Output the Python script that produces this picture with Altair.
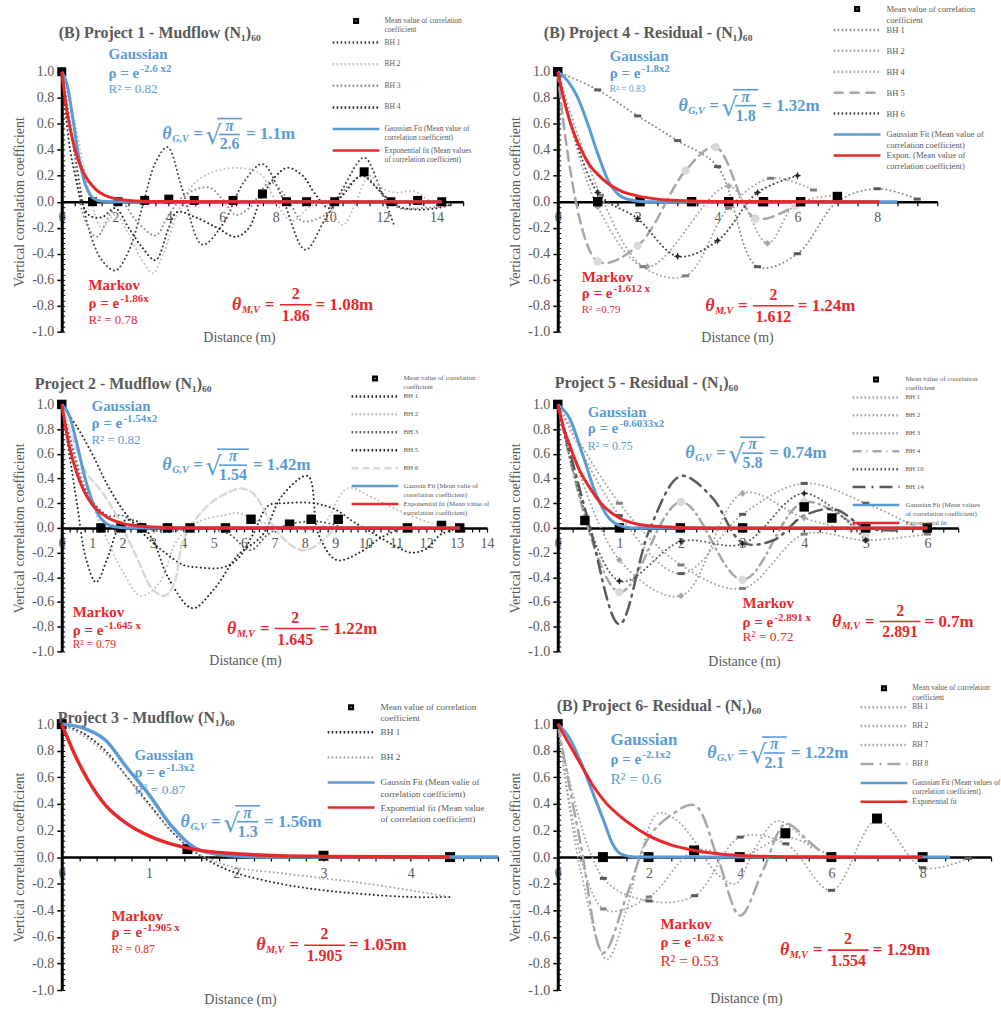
import altair as alt
import pandas as pd

# ===================== DATA =====================
# ---- Project 1 ----
P1_MEAN_X = [0, 1.15, 2.1, 3.1, 4.0, 4.95, 6.4, 7.5, 8.4, 9.15, 10.2, 11.3, 12.3, 13.3, 14.2]
P1_MEAN_Y = [1.0, 0.0, 0.0, 0.01, 0.02, 0.01, 0.01, 0.06, 0.0, 0.0, 0.0, 0.23, 0.0, 0.01, 0.0]
P1_BH1_X = [0, 0.5, 1, 1.5, 2, 2.5, 3, 3.5, 3.95, 4.5, 5.25, 6, 6.8, 7.5, 8.2, 9.1, 9.8, 10.5, 11.3, 11.9, 12.4]
P1_BH1_Y = [1.0, 0.35, -0.2, -0.45, -0.53, -0.38, -0.05, 0.3, 0.42, 0.1, -0.33, -0.18, 0.15, 0.29, 0.05, -0.37, -0.15, 0.1, 0.34, 0.1, -0.17]
P1_BH2_X = [0, 0.5, 1, 1.5, 2, 2.5, 3, 3.4, 3.8, 4.3, 5, 6, 7, 7.5, 8, 8.6, 9.2, 9.8, 10.5, 11, 11.5, 12, 12.5, 13.2, 13.8, 14.3]
P1_BH2_Y = [1.0, 0.6, 0.1, -0.2, -0.1, -0.25, -0.45, -0.55, -0.4, -0.1, 0.15, 0.25, 0.25, 0.2, 0.0, -0.15, -0.05, 0.0, -0.18, 0.0, 0.2, 0.1, 0.07, 0.08, 0.0, -0.03]
P1_BH3_X = [0, 0.4, 0.8, 1.3, 1.8, 2.2, 2.8, 3.5, 4, 4.6, 5.5, 6, 6.5, 7, 7.8, 8.5, 9, 10, 10.6, 11.3, 12, 12.6, 13.3, 14, 14.7]
P1_BH3_Y = [1.0, 0.5, -0.1, -0.27, -0.1, 0.0, -0.15, -0.26, -0.1, 0.05, 0.11, 0.02, -0.1, -0.05, 0.15, 0.0, -0.15, -0.08, 0.1, 0.2, 0.05, -0.05, -0.05, -0.04, -0.02]
P1_BH4_X = [0, 0.4, 1, 1.5, 2, 2.5, 3, 3.5, 4, 4.3, 5, 5.8, 6.5, 7, 7.5, 8.4, 9, 9.5, 10, 10.5, 11.2, 11.8, 12.5, 13.2, 14, 14.6]
P1_BH4_Y = [1.0, 0.3, -0.1, -0.12, -0.05, -0.2, -0.35, -0.45, -0.2, -0.08, -0.12, -0.2, -0.27, -0.2, 0.05, 0.26, 0.2, 0.05, -0.05, 0.05, 0.2, 0.1, -0.03, -0.06, -0.05, -0.02]
P1_GAUSS_X = [0, 0.2, 0.4, 0.6, 0.8, 1.0, 1.2, 1.5, 2.0, 14.2]
P1_GAUSS_Y = [1.0, 0.9, 0.66, 0.39, 0.19, 0.074, 0.024, 0.003, 0.0, 0.0]
P1_EXP_X = [0, 0.2, 0.4, 0.6, 0.8, 1.0, 1.3, 1.6, 2.0, 2.5, 3.0, 4.0, 14.2]
P1_EXP_Y = [1.0, 0.69, 0.48, 0.33, 0.23, 0.16, 0.09, 0.05, 0.024, 0.01, 0.004, 0.001, 0.0]

# ---- Project 4 ----
P4_MEAN_X = [0, 1.0, 2.06, 3.35, 4.28, 5.15, 6.08, 7.0]
P4_MEAN_Y = [1.0, 0.0, 0.0, 0.0, 0.0, 0.0, 0.0, 0.04]
P4_BH1_X = [0, 1, 2, 3, 4, 5, 6, 7, 8, 9]
P4_BH1_Y = [1.0, 0.86, 0.66, 0.47, 0.27, -0.5, -0.4, 0.0, 0.1, 0.02]
P4_BH2_X = [0, 1.0, 2.24, 4.28, 5.25, 5.95, 6.98]
P4_BH2_Y = [1.0, -0.04, -0.5, 0.12, -0.32, -0.02, 0.05]
P4_BH4_X = [0, 1.07, 2.13, 3.2, 4.27, 5.33, 6.4]
P4_BH4_Y = [1.0, 0.05, -0.5, -0.57, -0.05, 0.18, 0.09]
P4_BH5_X = [0, 1.0, 2.0, 3.2, 3.95, 4.95, 5.94]
P4_BH5_Y = [1.0, -0.46, -0.34, 0.24, 0.42, -0.13, -0.03]
P4_BH6_X = [0, 1, 2, 3, 4, 5, 6]
P4_BH6_Y = [1.0, 0.07, -0.13, -0.42, -0.3, 0.07, 0.2]
P4_GAUSS_X = [0, 0.25, 0.5, 0.75, 1.0, 1.25, 1.5, 1.8, 2.2, 3.0, 8.5]
P4_GAUSS_Y = [1.0, 0.93, 0.8, 0.6, 0.37, 0.17, 0.06, 0.015, 0.0, 0.0, 0.0]
P4_EXP_X = [0, 0.2, 0.4, 0.6, 0.8, 1.0, 1.3, 1.6, 2.0, 2.5, 3.0, 4.0, 8.05]
P4_EXP_Y = [1.0, 0.73, 0.53, 0.39, 0.28, 0.21, 0.13, 0.08, 0.045, 0.02, 0.009, 0.002, 0.0]

# ---- Project 2 ----
P2_MEAN_X = [0, 1.29, 1.95, 2.63, 3.48, 4.22, 5.39, 6.23, 7.5, 8.21, 9.1, 11.38, 12.5, 13.1]
P2_MEAN_Y = [1.0, 0.0, 0.0, 0.0, 0.0, 0.0, 0.0, 0.07, 0.03, 0.07, 0.07, 0.0, 0.02, 0.0]
P2_BH1_X = [0, 0.5, 0.8, 1.13, 1.5, 2.0, 2.5, 3.0, 3.5, 4.3, 5.0, 5.8, 6.6, 7.25, 8.1, 8.45, 9.05, 9.8, 10.5, 11.2]
P2_BH1_Y = [1.0, 0.2, -0.25, -0.44, -0.25, 0.05, 0.05, -0.1, -0.4, -0.65, -0.5, -0.22, -0.06, 0.26, 0.42, -0.05, -0.26, -0.2, -0.08, 0.0]
P2_BH2_X = [0, 0.5, 1, 1.5, 2.0, 2.6, 3.2, 3.8, 4.5, 5.3, 5.8, 6.5, 7.5, 8.5, 9.4, 10.2, 11, 12, 12.8]
P2_BH2_Y = [1.0, 0.55, 0.2, -0.1, -0.35, -0.55, -0.45, -0.1, 0.05, 0.1, 0.12, 0.05, 0.0, 0.0, 0.32, 0.25, 0.15, 0.05, 0.0]
P2_BH3_X = [0, 0.4, 0.8, 1.5, 2.0, 2.5, 3.0, 3.5, 4.5, 5.5, 6.2, 6.8, 7.5, 8.5, 9.3]
P2_BH3_Y = [1.0, 0.6, 0.3, 0.1, 0.1, 0.02, -0.02, -0.03, 0.0, -0.05, -0.18, -0.05, 0.03, 0.05, 0.0]
P2_BH5_X = [0, 0.5, 1, 1.5, 2, 2.5, 3, 3.5, 4, 4.5, 5.3, 5.8, 6.3, 6.8, 7.3, 8.3, 9.0, 9.6, 10.3, 11.0, 11.5, 12.0, 12.5, 13.2]
P2_BH5_Y = [1.0, 0.82, 0.6, 0.35, 0.15, 0.0, -0.12, -0.22, -0.3, -0.32, -0.32, -0.25, -0.05, 0.18, 0.2, 0.2, 0.15, 0.05, -0.05, -0.15, -0.2, -0.17, -0.05, 0.0]
P2_BH6_X = [0, 0.4, 0.8, 1.3, 1.8, 2.4, 3.0, 3.4, 3.7, 4.0, 4.5, 5.0, 5.6, 5.9, 6.3, 7.0, 7.6, 8.0, 8.5, 9.0]
P2_BH6_Y = [1.0, 0.7, 0.45, 0.3, 0.1, -0.2, -0.5, -0.55, -0.45, -0.1, 0.1, 0.22, 0.3, 0.32, 0.28, 0.0, -0.15, -0.18, -0.12, 0.0]
P2_GAUSS_X = [0, 0.25, 0.5, 0.75, 1.0, 1.25, 1.5, 1.75, 2.0, 2.5, 13.1]
P2_GAUSS_Y = [1.0, 0.91, 0.68, 0.42, 0.22, 0.09, 0.03, 0.009, 0.002, 0.0, 0.0]
P2_EXP_X = [0, 0.25, 0.5, 0.75, 1.0, 1.5, 2.0, 2.5, 3.0, 4.0, 13.1]
P2_EXP_Y = [1.0, 0.66, 0.44, 0.29, 0.19, 0.085, 0.037, 0.016, 0.007, 0.0014, 0.0]

# ---- Project 5 ----
P5_MEAN_X = [0, 0.44, 1.0, 1.99, 3.0, 4.0, 4.45, 5.0, 6.0]
P5_MEAN_Y = [1.0, 0.06, 0.0, 0.0, 0.0, 0.17, 0.08, 0.0, 0.0]
P5_BH1_X = [0, 1, 2, 3, 4, 5, 6]
P5_BH1_Y = [1.0, 0.1, -0.37, 0.11, 0.36, 0.2, -0.04]
P5_BH2_X = [0, 1, 2, 3, 4, 5]
P5_BH2_Y = [1.0, -0.26, -0.55, 0.28, 0.08, -0.05]
P5_BH3_X = [0, 1, 2, 3, 4, 5, 6]
P5_BH3_Y = [1.0, 0.2, -0.3, -0.49, -0.05, -0.1, -0.05]
P5_BH4_X = [0, 1, 2, 3, 4, 5]
P5_BH4_Y = [1.0, -0.52, 0.21, -0.42, 0.21, -0.05]
P5_BH10_X = [0, 1, 2, 3, 4, 5]
P5_BH10_Y = [1.0, -0.43, -0.11, -0.13, 0.28, -0.1]
P5_BH14_X = [0, 0.5, 1, 1.5, 2, 2.5, 3, 3.5, 4, 4.5, 5, 5.5]
P5_BH14_Y = [1.0, 0.05, -0.78, 0.0, 0.42, 0.25, -0.12, -0.1, 0.1, 0.15, 0.0, -0.02]
P5_GAUSS_X = [0, 0.2, 0.4, 0.6, 0.8, 1.0, 1.2, 6.0]
P5_GAUSS_Y = [1.0, 0.88, 0.6, 0.3, 0.1, 0.02, 0.0, 0.0]
P5_EXP_X = [0, 0.1, 0.2, 0.35, 0.5, 0.7, 1.0, 1.3, 1.7, 2.5, 6.0]
P5_EXP_Y = [1.0, 0.8, 0.66, 0.47, 0.34, 0.2, 0.08, 0.03, 0.01, 0.0, 0.0]

# ---- Project 3 ----
P3_MEAN_X = [0, 1.44, 3.0, 4.45]
P3_MEAN_Y = [1.0, 0.06, 0.01, 0.0]
P3_BH1_X = [0, 0.25, 0.5, 0.75, 1.0, 1.25, 1.5, 1.75, 2.0, 2.5, 3.0, 3.5, 4.0, 4.45]
P3_BH1_Y = [1.0, 0.93, 0.8, 0.6, 0.4, 0.2, 0.05, -0.05, -0.12, -0.2, -0.25, -0.28, -0.3, -0.3]
P3_BH2_X = [0, 0.25, 0.5, 0.75, 1.0, 1.25, 1.5, 1.75, 2.0, 2.5, 3.0, 3.5, 4.0, 4.45]
P3_BH2_Y = [1.0, 0.91, 0.78, 0.6, 0.39, 0.2, 0.05, -0.03, -0.08, -0.12, -0.16, -0.2, -0.25, -0.3]
P3_GAUSS_X = [0, 0.25, 0.5, 0.75, 1.0, 1.25, 1.5, 1.75, 2.0, 2.5, 5.0]
P3_GAUSS_Y = [1.0, 0.97, 0.88, 0.67, 0.47, 0.24, 0.08, 0.025, 0.008, 0.0, 0.0]
P3_EXP_X = [0, 0.15, 0.3, 0.5, 0.75, 1.0, 1.25, 1.5, 2.0, 2.5, 3.0, 4.45]
P3_EXP_Y = [1.0, 0.77, 0.58, 0.39, 0.25, 0.16, 0.1, 0.06, 0.025, 0.01, 0.005, 0.0]

# ---- Project 6 ----
P6_MEAN_X = [0, 0.99, 1.99, 2.99, 3.99, 4.99, 6.0, 7.0, 8.0]
P6_MEAN_Y = [1.0, 0.0, 0.0, 0.05, 0.0, 0.18, 0.0, 0.29, 0.0]
P6_BH1_X = [0, 1, 2, 3, 4, 5, 6, 7, 8, 9]
P6_BH1_Y = [1.0, -0.16, -0.33, -0.29, 0.15, 0.1, -0.25, 0.28, -0.08, -0.01]
P6_BH2_X = [0, 0.5, 1.08, 1.5, 1.8, 2.2, 2.6, 3.0, 3.5, 3.9, 4.3, 4.8, 5.2, 5.6]
P6_BH2_Y = [1.0, -0.1, -0.77, -0.4, 0.0, 0.33, 0.28, 0.12, -0.13, -0.2, 0.05, 0.27, 0.2, 0.05]
P6_BH7_X = [0, 1, 2, 3, 4, 5, 6]
P6_BH7_Y = [1.0, -0.39, -0.3, 0.05, 0.0, 0.15, 0.0]
P6_BH8_X = [0, 0.5, 1.0, 1.5, 2.0, 2.5, 3.0, 3.5, 4.0, 4.5, 5.0, 5.5, 5.8]
P6_BH8_Y = [1.0, 0.1, -0.72, -0.3, 0.15, 0.32, 0.39, 0.0, -0.44, -0.1, 0.25, 0.12, 0.03]
P6_GAUSS_X = [0, 0.25, 0.5, 0.75, 1.0, 1.2, 1.4, 1.7, 8.6]
P6_GAUSS_Y = [1.0, 0.9, 0.72, 0.5, 0.28, 0.1, 0.02, 0.0, 0.0]
P6_EXP_X = [0, 0.25, 0.5, 0.75, 1.0, 1.5, 2.0, 2.5, 3.0, 3.5, 4.0, 5.0, 8.0]
P6_EXP_Y = [1.0, 0.85, 0.7, 0.55, 0.43, 0.27, 0.16, 0.09, 0.05, 0.025, 0.012, 0.003, 0.0]

# ===================== STYLES =====================
FONT = "Liberation Serif"
BLUE = "#5b9bd5"
RED = "#e8282b"
GREY_TXT = "#595959"
DOT = [0.01, 4.2]
DASH = [7, 4]
LDASH = [10, 6]
DASHDOT = [9, 5, 1, 5]
LDASHDOT = [13, 6, 2, 6]
STAR = "M0,-1L0.3,-0.3L1,0L0.3,0.3L0,1L-0.3,0.3L-1,0L-0.3,-0.3Z"
LEG_SYM = 16
LEG_LINE = "M-11.75,0L11.75,0"
LEG_SQUARE = "M-0.9,-0.9L0.9,-0.9L0.9,0.9L-0.9,0.9Z"
MEAN_LBL = "Mean value of correlation|coefficient"


def leg_dash(d):
    if d is None:
        return [1, 0]
    if d == DOT:
        return [1.6, 2.4]
    return d


def S(label, xs, ys, color, dash=DOT, width=2.0, marker=None, mcolor=None, msize=50):
    return dict(label=label, x=xs, y=ys, color=color, dash=dash, width=width,
                marker=marker, mcolor=mcolor, msize=msize)


def txt(xs, ys, x, y, text, size, color, weight="normal", style="normal",
        dx=0, dy=0, align="left", font=FONT):
    df = pd.DataFrame({"x": [x], "y": [y], "t": [text]})
    return alt.Chart(df).mark_text(
        align=align, baseline="middle", dx=dx, dy=dy, fontSize=size, font=font,
        fontWeight=weight, fontStyle=style, color=color
    ).encode(x=alt.X("x:Q", scale=xs, axis=None),
             y=alt.Y("y:Q", scale=ys, axis=None), text="t:N")


def hrule(xs, ys, x, y, x0, x1, dy, color, w=1.6):
    df = pd.DataFrame({"x": [x], "y": [y]})
    return alt.Chart(df).mark_rule(
        xOffset=x0, x2Offset=x1, yOffset=dy, color=color, strokeWidth=w
    ).encode(x=alt.X("x:Q", scale=xs, axis=None), x2=alt.X2("x:Q"),
             y=alt.Y("y:Q", scale=ys, axis=None))


def fit_block(xs, ys, a, color):
    return [
        txt(xs, ys, a["x"], a["y"], a["name"], a.get("name_fs", 15), color, "bold"),
        txt(xs, ys, a["x"], a["y"], "ρ = e", 15, color, "bold", dy=a["dy_rho"]),
        txt(xs, ys, a["x"], a["y"], a["sup"], 11, color, "bold", dx=32, dy=a["dy_rho"] - 4),
        txt(xs, ys, a["x"], a["y"], a["r2"], a["r2_fs"], color, dy=a["dy_r2"]),
    ]


def theta_block(xs, ys, a, color, kind):
    fw = a["fw"]
    L = [
        txt(xs, ys, a["x"], a["y"], "θ", 18, color, "bold", "italic"),
        txt(xs, ys, a["x"], a["y"], "G,V" if kind == "G" else "M,V", 10, color, "bold", "italic", dx=10, dy=5),
        txt(xs, ys, a["x"], a["y"], "=", 17, color, "bold", dx=31 if kind == "G" else 33),
    ]
    if kind == "G":
        L += [
            txt(xs, ys, a["x"], a["y"], "√", 26, color, dx=43, dy=2, font="DejaVu Sans"),
            hrule(xs, ys, a["x"], a["y"], 55, 55 + fw, -16, color),
            txt(xs, ys, a["x"], a["y"], "π", 16, color, "bold", "italic", dx=55 + fw / 2, dy=-9, align="center"),
            hrule(xs, ys, a["x"], a["y"], 57, 53 + fw, 0, color),
            txt(xs, ys, a["x"], a["y"], a["den"], 16, color, "bold", dx=55 + fw / 2, dy=10, align="center"),
            txt(xs, ys, a["x"], a["y"], a["res"], 17, color, "bold", dx=59 + fw),
        ]
    else:
        L += [
            txt(xs, ys, a["x"], a["y"], "2", 16, color, "bold", dx=48 + fw / 2, dy=-11, align="center"),
            hrule(xs, ys, a["x"], a["y"], 48, 48 + fw, 0, color),
            txt(xs, ys, a["x"], a["y"], a["den"], 16, color, "bold", dx=48 + fw / 2, dy=11, align="center"),
            txt(xs, ys, a["x"], a["y"], a["res"], 17, color, "bold", dx=52 + fw),
        ]
    return L


def make_legend(cfg):
    L = cfg["legend"]
    fs = L["fs"]
    size = max(7.0, fs)             # symbol-column size used by the legend layout
    so = 23.5 - size / 2            # symbol line starts at the legend's left edge
    lo = L["lab"] - so - size       # label start, from the legend's left edge
    return alt.Legend(
        title=None, orient="none", legendX=L["x"], legendY=L["y"] - size / 2, padding=0,
        symbolSize=LEG_SYM, symbolStrokeWidth=2.5, symbolOffset=so, symbolOpacity=1,
        labelOffset=lo, labelFont=FONT, labelFontSize=fs, labelColor=GREY_TXT,
        labelLimit=400, gridAlign="all", rowPadding=L["rp"],
        labelExpr="split(datum.label, '|')", labelBaseline="middle",
    )


def panel(cfg):
    W, H, xmax = cfg["w"], cfg["h"], cfg["xmax"]
    R = cfg.get("range", W)
    xs = alt.Scale(domain=[0, xmax], range=[0, R], nice=False, zero=False)
    ys = alt.Scale(domain=[-1, 1], nice=False, zero=False)
    series = cfg["series"]
    labels = [MEAN_LBL] + [s["label"] for s in series] + [cfg["g_label"], cfg["e_label"]]
    colors = ["#000000"] + [s["color"] for s in series] + [BLUE, RED]
    dashes = [None] + [s["dash"] for s in series] + [None, None]
    shapes = [LEG_SQUARE] + [LEG_LINE] * (len(labels) - 1)
    leg = make_legend(cfg)

    nt = int(round(xmax / cfg["tstep"]))
    xvals = [round(i * cfg["tstep"], 3) for i in range(nt + 1)]
    le, lm = cfg["lab_every"], cfg["lab_max"]
    xaxis = alt.Axis(
        orient="bottom", offset=-H / 2, values=xvals,
        labelExpr=("(abs(datum.value / %s - round(datum.value / %s)) < 0.01 && datum.value <= %s) "
                   "? format(round(datum.value), 'd') : ''") % (le, le, lm + 0.01),
        labelFont=FONT, labelFontSize=14, labelColor=GREY_TXT, labelPadding=5,
        labelFlush=False, labelOverlap=False,
        tickSize=4, tickColor="black", tickWidth=1.2, domainColor="black", domainWidth=2.5,
        grid=False, title="Distance (m)", titleFont=FONT, titleFontSize=14,
        titleFontWeight="normal", titleColor=GREY_TXT, titleX=cfg["tx"], titleY=cfg["ty"],
        titleBaseline="top", titleAlign="center",
    )
    yvals = [round(-1 + 0.2 * i, 1) for i in range(11)]
    yaxis = alt.Axis(
        orient="left", values=yvals,
        labelExpr="replace(format(datum.value, '.1f'), '\u2212', '-')",
        labelFont=FONT, labelFontSize=14, labelColor=GREY_TXT, labelPadding=3,
        labelFlush=False, labelOverlap=False,
        tickSize=5, tickColor="black", tickWidth=1.5, domainColor="black", domainWidth=3,
        grid=False, title="Vertical  correlation coefficient", titleFont=FONT,
        titleFontSize=14, titleFontWeight="normal", titleColor=GREY_TXT, titlePadding=5,
    )
    yminor = alt.Axis(
        orient="right", offset=-W, values=[round(-1 + 0.04 * i, 2) for i in range(51)],
        labels=False, domain=False, tickSize=3, tickColor="black", tickWidth=1,
        grid=False, title=None,
    )

    def X():
        return alt.X("x:Q", scale=xs, axis=None)

    def Y():
        return alt.Y("y:Q", scale=ys, axis=None)

    layers = []
    # legend carrier (invisible in the plot, supplies the legend entries) + main axes
    ldf = pd.DataFrame({"x": [0.0] * len(labels), "y": [0.0] * len(labels), "s": labels})
    layers.append(alt.Chart(ldf).mark_point(filled=False, opacity=0, strokeWidth=2.5).encode(
        x=alt.X("x:Q", scale=xs, axis=xaxis), y=alt.Y("y:Q", scale=ys, axis=yaxis),
        color=alt.Color("s:N", scale=alt.Scale(domain=labels, range=colors), legend=leg),
        shape=alt.Shape("s:N", scale=alt.Scale(domain=labels, range=shapes), legend=leg),
        strokeDash=alt.StrokeDash("s:N", scale=alt.Scale(domain=labels, range=[leg_dash(d) for d in dashes]), legend=leg),
    ))
    for s in series:
        df = pd.DataFrame({"x": s["x"], "y": s["y"]})
        layers.append(alt.Chart(df).mark_line(
            interpolate="catmull-rom", strokeDash=s["dash"], strokeWidth=s["width"],
            strokeCap="round", opacity=1, color=s["color"]
        ).encode(x=X(), y=Y()))
    for s in series:
        if s["marker"]:
            mdf = pd.DataFrame({"x": s["x"][1:], "y": s["y"][1:]})
            if s["marker"] == "stroke":
                mk = alt.Chart(mdf).mark_point(shape="stroke", filled=False, size=s["msize"],
                                               strokeWidth=3, color=s["mcolor"], opacity=1)
            else:
                mk = alt.Chart(mdf).mark_point(shape=s["marker"], filled=True, size=s["msize"],
                                               color=s["mcolor"], opacity=1)
            layers.append(mk.encode(x=X(), y=Y()))
    mdf = pd.DataFrame({"x": cfg["mean"][0], "y": cfg["mean"][1]})
    layers.append(alt.Chart(mdf).mark_square(size=cfg.get("msize", 90), opacity=1, color="black").encode(
        x=X(), y=Y()))
    gdf = pd.DataFrame({"x": cfg["gauss"][0], "y": cfg["gauss"][1]})
    layers.append(alt.Chart(gdf).mark_line(interpolate="monotone", strokeWidth=cfg.get("fitw", 3),
                                           opacity=1, color=BLUE).encode(
        x=X(), y=alt.Y("y:Q", scale=ys, axis=yminor)))
    edf = pd.DataFrame({"x": cfg["exp"][0], "y": cfg["exp"][1]})
    layers.append(alt.Chart(edf).mark_line(interpolate="monotone", strokeWidth=cfg.get("fitw", 3),
                                           opacity=1, color=RED).encode(x=X(), y=Y()))

    layers += fit_block(xs, ys, cfg["ga"], BLUE)
    layers += fit_block(xs, ys, cfg["ma"], RED)
    layers += theta_block(xs, ys, cfg["tg"], BLUE, "G")
    layers += theta_block(xs, ys, cfg["tm"], RED, "M")
    # panel heading
    layers.append(txt(xs, ys, 0, cfg["ty_title"], cfg["title"], 16, GREY_TXT, "bold", dx=cfg["tdx"]))

    return alt.layer(*layers).resolve_axis(x="independent", y="independent").properties(width=W, height=H)


G1 = "Gaussian Fit (Mean value of|correlation coefficient)"
G2 = "Gaussin Fit (Mean valie of|correlation coefficient)"

# legend: x = left of symbol column, y = centre of first entry (relative to plot origin)
CFG1 = dict(
    w=444, range=403, h=261, xmax=15, tstep=0.5, lab_every=2, lab_max=14, tx=178, ty=129.5,
    title="(B) Project 1 - Mudflow (N₁)₆₀", tdx=-3, ty_title=1.299, msize=81,
    legend=dict(x=272, y=-51, fs=7.5, rp=2.7, lab=52),
    series=[S("BH 1", P1_BH1_X, P1_BH1_Y, "#404040"), S("BH 2", P1_BH2_X, P1_BH2_Y, "#bfbfbf"),
            S("BH 3", P1_BH3_X, P1_BH3_Y, "#8c8c8c"), S("BH 4", P1_BH4_X, P1_BH4_Y, "#262626")],
    mean=(P1_MEAN_X, P1_MEAN_Y), gauss=(P1_GAUSS_X, P1_GAUSS_Y), exp=(P1_EXP_X, P1_EXP_Y),
    g_label=G1, e_label="Exponential fit (Mean values|of correlation coefficient)",
    ga=dict(x=1.75, y=1.138, name="Gaussian", sup="-2.6 x2", r2="R² = 0.82", r2_fs=13, dy_rho=19, dy_r2=35),
    ma=dict(x=1.0, y=-0.64, name="Markov", sup="-1.86x", r2="R² = 0.78", r2_fs=13, dy_rho=18, dy_r2=35),
    tg=dict(x=3.76, y=0.517, den="2.6", res="= 1.1m", fw=25),
    tm=dict(x=6.36, y=-0.793, den="1.86", res="= 1.08m", fw=32),
)

CFG4 = dict(
    w=381, h=261, xmax=9.5, tstep=0.5, lab_every=2, lab_max=8, tx=180, ty=129.5,
    title="(B) Project 4 - Residual - (N₁)₆₀", tdx=-14, ty_title=1.299,
    legend=dict(x=277, y=-63, fs=8.6, rp=0, lab=53),
    series=[S("BH 1", P4_BH1_X, P4_BH1_Y, "#8c8c8c", marker="stroke", mcolor="#595959", msize=50),
            S("BH 2", P4_BH2_X, P4_BH2_Y, "#a6a6a6", marker="diamond", mcolor="#a6a6a6", msize=45),
            S("BH 4", P4_BH4_X, P4_BH4_Y, "#a6a6a6", marker="stroke", mcolor="#7f7f7f", msize=50),
            S("BH 5", P4_BH5_X, P4_BH5_Y, "#a6a6a6", dash=LDASH, width=2.5, marker="circle", mcolor="#d9d9d9", msize=70),
            S("BH 6", P4_BH6_X, P4_BH6_Y, "#404040", marker=STAR, mcolor="#262626", msize=60)],
    mean=(P4_MEAN_X, P4_MEAN_Y), gauss=(P4_GAUSS_X, P4_GAUSS_Y), exp=(P4_EXP_X, P4_EXP_Y),
    g_label=G1, e_label="Expon. (Mean value of|correlation coefficient)",
    ga=dict(x=1.30, y=1.123, name="Gaussian", sup="-1.8x2", r2="R² = 0.83", r2_fs=9.5, dy_rho=17, dy_r2=33),
    ma=dict(x=0.6, y=-0.578, name="Markov", sup="-1.612 x", r2="R² =0.79", r2_fs=11, dy_rho=16, dy_r2=33),
    tg=dict(x=3.02, y=0.739, den="1.8", res="= 1.32m", fw=25),
    tm=dict(x=3.69, y=-0.80, den="1.612", res="= 1.24m", fw=41),
)

CFG2 = dict(
    w=441, range=427, h=248, xmax=14, tstep=0.25, lab_every=1, lab_max=14, tx=184, ty=126,
    title="Project 2 - Mudflow (N₁)₆₀", tdx=-27, ty_title=1.161,
    legend=dict(x=291, y=-26, fs=7, rp=0, lab=52),
    series=[S("BH 1", P2_BH1_X, P2_BH1_Y, "#262626"), S("BH 2", P2_BH2_X, P2_BH2_Y, "#bfbfbf"),
            S("BH 3", P2_BH3_X, P2_BH3_Y, "#595959"), S("BH 5", P2_BH5_X, P2_BH5_Y, "#262626"),
            S("BH 6", P2_BH6_X, P2_BH6_Y, "#d9d9d9", dash=DASH, width=2.5)],
    mean=(P2_MEAN_X, P2_MEAN_Y), gauss=(P2_GAUSS_X, P2_GAUSS_Y), exp=(P2_EXP_X, P2_EXP_Y),
    g_label=G2, e_label="Exponential fit (Mean value of|correlation coefficient)",
    ga=dict(x=0.98, y=0.984, name="Gaussian", sup="-1.54x2", r2="R² = 0.82", r2_fs=13, dy_rho=17, dy_r2=34),
    ma=dict(x=0.36, y=-0.677, name="Markov", sup="-1.645 x", r2="R² = 0.79", r2_fs=11.5, dy_rho=19, dy_r2=34),
    tg=dict(x=3.31, y=0.508, den="1.54", res="= 1.42m", fw=32),
    tm=dict(x=5.44, y=-0.815, den="1.645", res="= 1.22m", fw=41),
)

CFG5 = dict(
    w=402, h=248, xmax=6.5, tstep=0.25, lab_every=1, lab_max=6, tx=187, ty=127,
    title="Project 5 - Residual - (N₁)₆₀", tdx=-3, ty_title=1.177,
    legend=dict(x=296, y=-25, fs=7, rp=0, lab=53),
    series=[S("BH 1", P5_BH1_X, P5_BH1_Y, "#a6a6a6", marker="stroke", mcolor="#595959", msize=50),
            S("BH 2", P5_BH2_X, P5_BH2_Y, "#a6a6a6", marker="diamond", mcolor="#a6a6a6", msize=45),
            S("BH 3", P5_BH3_X, P5_BH3_Y, "#a6a6a6", marker="stroke", mcolor="#7f7f7f", msize=50),
            S("BH 4", P5_BH4_X, P5_BH4_Y, "#a6a6a6", dash=DASHDOT, width=2.5, marker="circle", mcolor="#d9d9d9", msize=70),
            S("BH 10", P5_BH10_X, P5_BH10_Y, "#595959", marker=STAR, mcolor="#262626", msize=60),
            S("BH 14", P5_BH14_X, P5_BH14_Y, "#595959", dash=LDASHDOT, width=2.5)],
    mean=(P5_MEAN_X, P5_MEAN_Y), gauss=(P5_GAUSS_X, P5_GAUSS_Y), exp=(P5_EXP_X, P5_EXP_Y),
    g_label="Gaussian Fit (Mean values|of correlation coefficient)", e_label="Exponential fit",
    ga=dict(x=0.485, y=0.935, name="Gaussian", sup="-0.6033x2", r2="R² = 0.75", r2_fs=12, dy_rho=16, dy_r2=34),
    ma=dict(x=3.0, y=-0.605, name="Markov", sup="-2.891 x", r2="R² = 0.72", r2_fs=13.5, dy_rho=19, dy_r2=35),
    tg=dict(x=2.07, y=0.605, den="5.8", res="= 0.74m", fw=25),
    tm=dict(x=4.45, y=-0.758, den="2.891", res="= 0.7m", fw=41),
)

CFG3 = dict(
    w=438, h=267, xmax=5, tstep=0.2, lab_every=1, lab_max=4, tx=179, ty=136, fitw=3.5,
    title="Project 3 - Mudflow (N₁)₆₀", tdx=-4, ty_title=1.045, msize=100,
    legend=dict(x=267, y=-17, fs=9.3, rp=2.2, lab=53),
    series=[S("BH 1", P3_BH1_X, P3_BH1_Y, "#262626"), S("BH 2", P3_BH2_X, P3_BH2_Y, "#a6a6a6")],
    mean=(P3_MEAN_X, P3_MEAN_Y), gauss=(P3_GAUSS_X, P3_GAUSS_Y), exp=(P3_EXP_X, P3_EXP_Y),
    g_label=G2, e_label="Exponential fit (Mean value|of correlation coefficient)",
    ga=dict(x=0.833, y=0.768, name="Gaussian", sup="-1.3x2", r2="R² = 0.87", r2_fs=13.5, dy_rho=17, dy_r2=35),
    ma=dict(x=0.57, y=-0.446, name="Markov", sup="-1.905 x", r2="R² = 0.87", r2_fs=11.5, dy_rho=16, dy_r2=34),
    tg=dict(x=1.36, y=0.266, den="1.3", res="= 1.56m", fw=25),
    tm=dict(x=2.23, y=-0.663, den="1.905", res="= 1.05m", fw=41),
)

CFG6 = dict(
    w=435, h=267, xmax=9.5, tstep=0.5, lab_every=2, lab_max=8, tx=189, ty=134.5,
    title="(B) Project 6- Residual - (N₁)₆₀", tdx=-1, ty_title=1.135, msize=100,
    legend=dict(x=304, y=-36, fs=7.5, rp=0, lab=52),
    series=[S("BH 1", P6_BH1_X, P6_BH1_Y, "#a6a6a6", marker="stroke", mcolor="#595959", msize=50),
            S("BH 2", P6_BH2_X, P6_BH2_Y, "#a6a6a6"),
            S("BH 7", P6_BH7_X, P6_BH7_Y, "#a6a6a6", marker="stroke", mcolor="#7f7f7f", msize=40),
            S("BH 8", P6_BH8_X, P6_BH8_Y, "#a6a6a6", dash=LDASHDOT, width=2.5)],
    mean=(P6_MEAN_X, P6_MEAN_Y), gauss=(P6_GAUSS_X, P6_GAUSS_Y), exp=(P6_EXP_X, P6_EXP_Y),
    g_label="Gaussian Fit (Mean values of|correlation coefficient)", e_label="Exponential fit",
    ga=dict(x=1.157, y=0.88, name="Gaussian", name_fs=17, sup="-2.1x2", r2="R² = 0.6", r2_fs=15.5, dy_rho=19, dy_r2=39),
    ma=dict(x=2.25, y=-0.506, name="Markov", sup="-1.62 x", r2="R² = 0.53", r2_fs=15.5, dy_rho=18, dy_r2=37),
    tg=dict(x=3.275, y=0.783, den="2.1", res="= 1.22m", fw=25),
    tm=dict(x=4.87, y=-0.70, den="1.554", res="= 1.29m", fw=41),
)

chart = alt.concat(
    panel(CFG1), panel(CFG4), panel(CFG2), panel(CFG5), panel(CFG3), panel(CFG6),
    columns=2, spacing={"row": 73, "column": 54}, bounds="flush", align="none",
).resolve_scale(
    color="independent", shape="independent", strokeDash="independent"
).properties(
    padding={"left": 12, "top": 2, "right": 0, "bottom": 0}, background="white"
).configure_view(stroke=None)

chart.save("out.html", embed_options={"renderer": "svg", "actions": False})
